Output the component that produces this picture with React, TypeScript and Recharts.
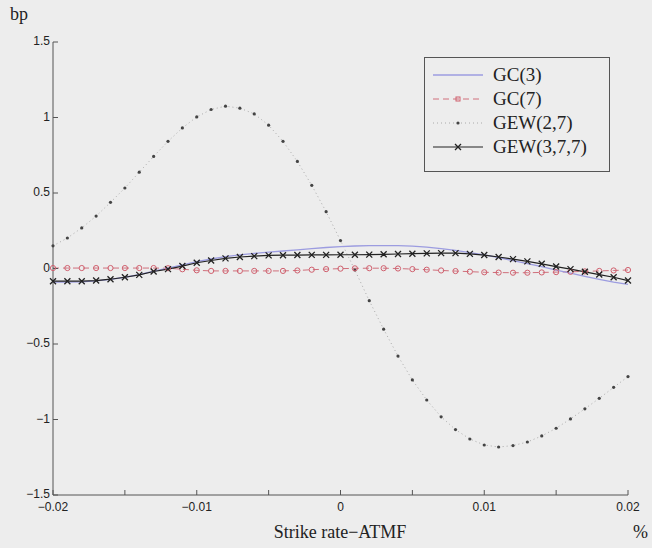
import React from "react";
import { CartesianGrid, Line, LineChart, XAxis, YAxis } from "recharts";

// strike rate minus ATMF, in %
const strike = [
  -0.02, -0.019, -0.018, -0.017, -0.016, -0.015, -0.014, -0.013, -0.012, -0.011,
  -0.01, -0.009, -0.008, -0.007, -0.006, -0.005, -0.004, -0.003, -0.002, -0.001,
  0, 0.001, 0.002, 0.003, 0.004, 0.005, 0.006, 0.007, 0.008, 0.009,
  0.01, 0.011, 0.012, 0.013, 0.014, 0.015, 0.016, 0.017, 0.018, 0.019, 0.02,
];

const gc3 = [
  -0.09, -0.09, -0.088, -0.082, -0.072, -0.058, -0.04, -0.018, 0.002, 0.024,
  0.045, 0.063, 0.078, 0.09, 0.1, 0.108, 0.116, 0.124, 0.132, 0.139,
  0.145, 0.149, 0.151, 0.152, 0.151, 0.148, 0.142, 0.132, 0.12, 0.105,
  0.09, 0.072, 0.052, 0.032, 0.012, -0.01, -0.03, -0.052, -0.072, -0.09, -0.105,
];

const gc7 = [
  0.003, 0.003, 0.003, 0.003, 0.003, 0.003, 0.003, 0.003, 0.002, -0.005,
  -0.012, -0.016, -0.016, -0.016, -0.016, -0.016, -0.016, -0.013, -0.008, -0.004,
  -0.001, 0.001, 0.002, 0.002, 0.0, -0.004, -0.008, -0.013, -0.017, -0.021,
  -0.025, -0.027, -0.028, -0.028, -0.026, -0.024, -0.022, -0.019, -0.016, -0.013, -0.01,
];

const gew27 = [
  0.15, 0.202, 0.269, 0.347, 0.438, 0.533, 0.638, 0.742, 0.842, 0.931,
  1.004, 1.053, 1.075, 1.062, 1.024, 0.949, 0.842, 0.709, 0.551, 0.376,
  0.185, -0.01, -0.213, -0.402, -0.58, -0.738, -0.871, -0.982, -1.067, -1.129,
  -1.169, -1.182, -1.173, -1.149, -1.109, -1.058, -0.996, -0.929, -0.86, -0.787, -0.716,
];

const gew377 = [
  -0.084, -0.084, -0.084, -0.08, -0.071, -0.058, -0.042, -0.02, -0.004, 0.016,
  0.038, 0.053, 0.067, 0.076, 0.082, 0.087, 0.088, 0.089, 0.09, 0.09,
  0.091, 0.091, 0.092, 0.094, 0.096, 0.098, 0.1, 0.102, 0.102, 0.097,
  0.089, 0.076, 0.062, 0.047, 0.031, 0.013, -0.004, -0.022, -0.04, -0.058, -0.08,
];

const xTicks = [-0.02, -0.015, -0.01, -0.005, 0, 0.005, 0.01, 0.015, 0.02];
const yTicks = [-1.5, -1, -0.5, 0, 0.5, 1, 1.5];

const data = strike.map((x, i) => ({
  x,
  gc3: gc3[i],
  gc7: gc7[i],
  gew27: gew27[i],
  gew377: gew377[i],
}));

const BG = "#ededed";
const AXIS = "#555";
const serif = "'Liberation Serif', 'DejaVu Serif', serif";
const sans = "'Liberation Sans', Arial, sans-serif";

const minus = (s: string) => s.replace("-", "\u2212");

const fmtX = (v: number) => {
  const k = Math.round(v * 1000);
  if (k % 10 !== 0) return "";
  return minus(String(k / 1000));
};
const fmtY = (v: number) => minus(String(v));

const CircleDot = (p: any) => (
  <circle key={p.index} cx={p.cx} cy={p.cy} r={2.6} fill="none" stroke="#d0606e" strokeWidth={1} />
);
const SmallDot = (p: any) => (
  <circle key={p.index} cx={p.cx} cy={p.cy} r={1.6} fill="#444" />
);
const CrossDot = (p: any) => (
  <path
    key={p.index}
    d={`M${p.cx - 3},${p.cy - 3}L${p.cx + 3},${p.cy + 3}M${p.cx - 3},${p.cy + 3}L${p.cx + 3},${p.cy - 3}`}
    stroke="#222"
    strokeWidth={1.3}
  />
);

const legendItems = [
  { name: "GC(3)", kind: "gc3" },
  { name: "GC(7)", kind: "gc7" },
  { name: "GEW(2,7)", kind: "gew27" },
  { name: "GEW(3,7,7)", kind: "gew377" },
];

const Sample = ({ kind }: { kind: string }) => (
  <svg width={50} height={14} style={{ display: "block" }}>
    {kind === "gc3" && <line x1={0} y1={7} x2={50} y2={7} stroke="#9c9ce0" strokeWidth={1.3} />}
    {kind === "gc7" && (
      <>
        <line x1={0} y1={7} x2={50} y2={7} stroke="#d0707c" strokeWidth={1} strokeDasharray="6 4" />
        <rect x={23} y={5} width={4} height={4} fill="none" stroke="#d0606e" />
      </>
    )}
    {kind === "gew27" && (
      <>
        <line x1={0} y1={7} x2={50} y2={7} stroke="#aaa" strokeWidth={1} strokeDasharray="1 3" />
        <circle cx={25} cy={7} r={1.6} fill="#444" />
      </>
    )}
    {kind === "gew377" && (
      <>
        <line x1={0} y1={7} x2={50} y2={7} stroke="#222" strokeWidth={1.2} />
        <path d="M22,4L28,10M22,10L28,4" stroke="#222" strokeWidth={1.3} />
      </>
    )}
  </svg>
);

export default function App() {
  return (
    <div style={{ position: "absolute", left: 0, top: 0, width: 652, height: 548, background: BG }}>
      <LineChart
        width={652}
        height={548}
        data={data}
        margin={{ top: 42, right: 24, bottom: 0, left: 0 }}
      >
        <CartesianGrid stroke="none" fill={BG} />
        <XAxis
          dataKey="x"
          type="number"
          domain={[-0.02, 0.02]}
          ticks={xTicks}
          tickFormatter={fmtX}
          height={53}
          stroke={AXIS}
          tickSize={-5}
          tickMargin={12}
          tick={{ fill: "#222", fontSize: 12, fontFamily: sans }}
          interval={0}
        />
        <XAxis
          xAxisId="top"
          orientation="top"
          dataKey="x"
          type="number"
          domain={[-0.02, 0.02]}
          ticks={xTicks}
          tick={false}
          height={0}
          stroke={AXIS}
          tickSize={-5}
        />
        <YAxis
          type="number"
          domain={[-1.5, 1.5]}
          ticks={yTicks}
          tickFormatter={fmtY}
          width={53}
          stroke={AXIS}
          tickSize={-5}
          tickMargin={8}
          tick={{ fill: "#222", fontSize: 12, fontFamily: sans, dy: -1 }}
          interval={0}
        />
        <YAxis
          yAxisId="right"
          orientation="right"
          type="number"
          domain={[-1.5, 1.5]}
          ticks={yTicks}
          tick={false}
          width={0}
          stroke={AXIS}
          tickSize={-5}
        />
        <Line
          dataKey="gew27"
          stroke="#aaa"
          strokeWidth={1}
          strokeDasharray="1 3"
          dot={SmallDot}
          isAnimationActive={false}
        />
        <Line
          dataKey="gc7"
          stroke="#d0707c"
          strokeWidth={1}
          strokeDasharray="6 4"
          dot={CircleDot}
          isAnimationActive={false}
        />
        <Line
          dataKey="gc3"
          stroke="#9c9ce0"
          strokeWidth={1.3}
          dot={false}
          isAnimationActive={false}
        />
        <Line
          dataKey="gew377"
          stroke="#222"
          strokeWidth={1.2}
          dot={CrossDot}
          isAnimationActive={false}
        />
      </LineChart>

      <div style={{ position: "absolute", left: 10, top: 4, fontFamily: serif, fontSize: 18, color: "#222" }}>
        bp
      </div>
      <div
        style={{
          position: "absolute",
          left: 240,
          width: 200,
          top: 522,
          textAlign: "center",
          fontFamily: serif,
          fontSize: 18,
          color: "#222",
        }}
      >
        Strike rate{"\u2212"}ATMF
      </div>
      <div style={{ position: "absolute", left: 633, top: 522, fontFamily: serif, fontSize: 18, color: "#222" }}>
        %
      </div>

      <div
        style={{
          position: "absolute",
          left: 424,
          top: 57,
          width: 184,
          height: 113,
          border: "1px solid #555",
          background: BG,
          boxSizing: "content-box",
        }}
      >
        {legendItems.map((it, i) => (
          <div
            key={it.name}
            style={{ position: "absolute", left: 8, top: 5 + i * 24, height: 24, display: "flex", alignItems: "center" }}
          >
            <Sample kind={it.kind} />
            <span style={{ marginLeft: 10, fontFamily: serif, fontSize: 19, color: "#222" }}>{it.name}</span>
          </div>
        ))}
      </div>
    </div>
  );
}
